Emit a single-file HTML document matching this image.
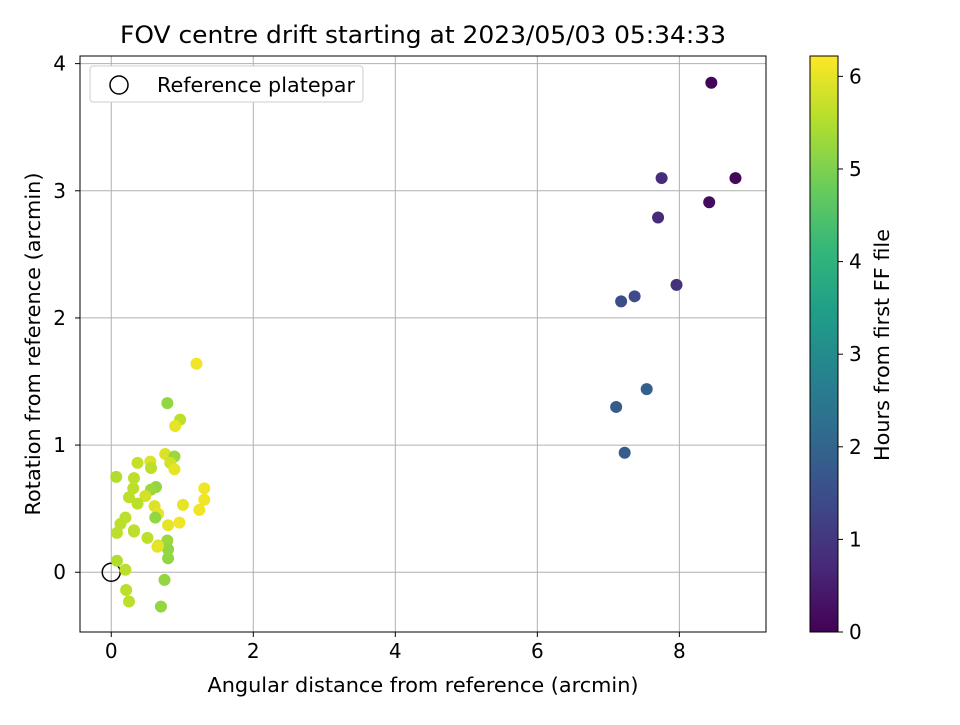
<!DOCTYPE html>
<html><head><meta charset="utf-8"><style>
body{margin:0;background:#fff;font-family:"Liberation Sans","DejaVu Sans",sans-serif}
</style></head><body>
<svg id="c" width="960" height="720" xmlns="http://www.w3.org/2000/svg" font-family="DejaVu Sans, Liberation Sans, sans-serif"></svg>
<script>
const xs=[1.20,0.79,0.97,0.90,0.76,0.89,0.83,0.89,0.37,0.55,0.56,0.07,0.32,0.63,0.56,0.31,0.25,0.48,0.37,0.61,0.66,1.31,1.31,1.24,1.01,0.62,0.20,0.13,0.08,0.32,0.32,0.80,0.96,0.51,0.79,0.80,0.66,0.65,0.80,0.08,0.20,0.75,0.21,0.25,0.70,
8.45,7.75,8.79,8.42,7.70,7.96,7.37,7.18,7.54,7.11,7.23];
const ys=[1.64,1.33,1.20,1.15,0.93,0.91,0.86,0.81,0.86,0.87,0.82,0.75,0.74,0.67,0.65,0.66,0.59,0.60,0.54,0.52,0.46,0.66,0.57,0.49,0.53,0.43,0.43,0.38,0.31,0.33,0.32,0.37,0.39,0.27,0.25,0.18,0.21,0.20,0.11,0.09,0.02,-0.06,-0.14,-0.23,-0.27,
3.85,3.10,3.10,2.91,2.79,2.26,2.17,2.13,1.44,1.30,0.94];
const hours=[6.1,5.2,5.6,6.0,5.9,5.3,5.8,6.0,5.7,5.9,5.6,5.5,5.6,5.2,5.3,5.6,5.6,5.8,5.6,5.9,6.0,6.1,6.1,6.1,6.0,5.2,5.6,5.6,5.6,5.7,5.6,6.0,6.1,5.6,5.3,5.2,5.8,6.0,5.2,5.5,5.6,5.2,5.6,5.6,5.2,
0.05,0.8,0.1,0.2,0.75,0.9,1.4,1.5,1.9,1.8,1.8];
const xTicks=[0,2,4,6,8], yTicks=[0,1,2,3,4], cTicks=[0,1,2,3,4,5,6];
const L=80,R=766,T=56,B=632, xmin=-0.44, xmax=9.22, ymin=-0.47, ymax=4.06, cmax=6.22;
const X=v=>L+(v-xmin)/(xmax-xmin)*(R-L), Y=v=>B-(v-ymin)/(ymax-ymin)*(B-T);
const CB=v=>632-v/cmax*576;
const vir=[[68,1,84],[72,40,120],[62,73,137],[49,104,142],[38,130,142],[31,158,137],[53,183,121],[109,205,89],[180,222,44],[253,231,37]];
function col(t){t=Math.max(0,Math.min(1,t))*(vir.length-1);const i=Math.min(vir.length-2,Math.floor(t)),f=t-i;
return 'rgb('+vir[i].map((a,k)=>Math.round(a+(vir[i+1][k]-a)*f)).join(',')+')';}
const s=document.getElementById('c');const NS='http://www.w3.org/2000/svg';
function el(t,a,p){const e=document.createElementNS(NS,t);for(const k in a)e.setAttribute(k,a[k]);(p||s).appendChild(e);return e;}
function tx(x,y,str,a){const e=el('text',Object.assign({x:x,y:y,'font-size':20,fill:'#000'},a||{}));e.textContent=str;return e;}
xTicks.forEach(v=>{const g=el('line',{x1:X(v),x2:X(v),y1:T,y2:B,stroke:'#b0b0b0','stroke-width':1});

const t=tx(X(v),658,String(v),{'text-anchor':'middle'});
el('line',{x1:X(v),x2:X(v),y1:B,y2:B+5,stroke:'#000'});});
yTicks.forEach(v=>{const g=el('line',{x1:L,x2:R,y1:Y(v),y2:Y(v),stroke:'#b0b0b0','stroke-width':1});

const t=tx(66,Y(v)+7,String(v),{'text-anchor':'end'});
el('line',{x1:L-5,x2:L,y1:Y(v),y2:Y(v),stroke:'#000'});});
const ref=el('circle',{cx:X(0),cy:Y(0),r:9,fill:'none',stroke:'#000','stroke-width':1.5});

xs.forEach((v,i)=>{const c=el('circle',{cx:X(v),cy:Y(ys[i]),r:6,fill:col(hours[i]/cmax)});
});
const fr=el('rect',{x:L,y:T,width:R-L,height:B-T,fill:'none',stroke:'#000','stroke-width':1});

const lg=el('g',{});
el('rect',{x:90,y:66,width:273,height:36,rx:3,fill:'#fff',stroke:'#ccc'},lg);
el('circle',{cx:119,cy:85,r:9,fill:'none',stroke:'#000','stroke-width':1.5},lg);
const lt=tx(157,92,'Reference platepar',{textLength:198,lengthAdjust:'spacingAndGlyphs'});lg.appendChild(lt);
let t=tx(423,43,'FOV centre drift starting at 2023/05/03 05:34:33',{'text-anchor':'middle','font-size':24,textLength:606,lengthAdjust:'spacingAndGlyphs'});

t=tx(423,692,'Angular distance from reference (arcmin)',{'text-anchor':'middle',textLength:431,lengthAdjust:'spacingAndGlyphs'});

t=tx(0,0,'Rotation from reference (arcmin)',{'text-anchor':'middle',textLength:343,lengthAdjust:'spacingAndGlyphs',transform:'translate(40,344) rotate(-90)'});

const defs=el('defs',{});const gr=el('linearGradient',{id:'vg',x1:0,y1:1,x2:0,y2:0},defs);
vir.forEach((c,i)=>el('stop',{offset:i/(vir.length-1),'stop-color':'rgb('+c.join(',')+')'},gr));
const cb=el('rect',{x:810,y:56,width:28,height:576,fill:'url(#vg)',stroke:'#000'});

cTicks.forEach(v=>{el('line',{x1:838,x2:843,y1:CB(v),y2:CB(v),stroke:'#000'});
const l=tx(849,CB(v)+7,String(v),{});});
t=tx(0,0,'Hours from first FF file',{'text-anchor':'middle',textLength:232,lengthAdjust:'spacingAndGlyphs',transform:'translate(889,345) rotate(-90)'});

</script>
</body></html>
